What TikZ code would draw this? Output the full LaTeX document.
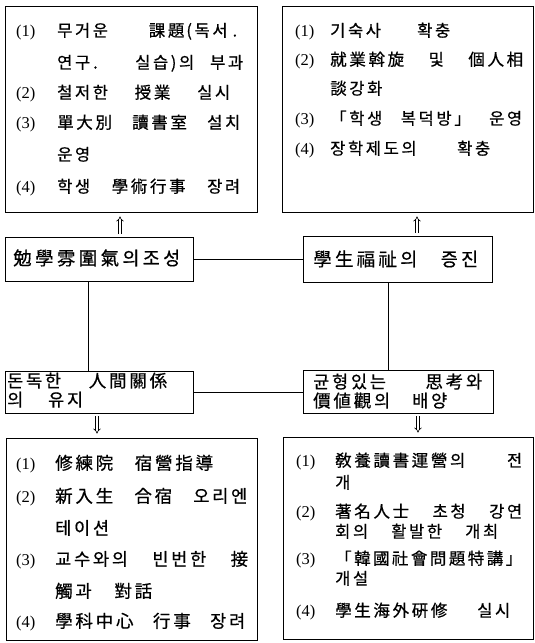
\documentclass[tikz,border=0pt]{standalone}
\usepackage{fontspec}
\newfontfamily\krD[LetterSpace=16,FakeBold=0.6]{Noto Sans CJK KR}
\newfontfamily\krm[FakeBold=0.6]{Noto Sans CJK KR}
\newfontfamily\numf{Liberation Serif}
\usetikzlibrary{arrows.meta}
\newcommand\jl[2]{\makebox[#1pt][s]{#2}}
\begin{document}
\begin{tikzpicture}[x=1pt,y=-1pt,
  frame/.style={draw, line width=0.9pt, inner sep=0pt},
  txt/.style={anchor=west, inner sep=0pt, text height=14.5pt, text depth=1.5pt,
    font=\krD\fontsize{16.5}{16.5}\selectfont},
  txtb/.style={txt, font=\krD\fontsize{17.5}{17.5}\selectfont},
  txtp/.style={txt, font=\krm\fontsize{16.5}{16.5}\selectfont},
  num/.style={anchor=west, inner sep=0pt, text height=14.5pt, text depth=1.5pt,
    font=\numf\fontsize{16.5}{16.5}\selectfont},
  mid/.style={anchor=west, inner sep=0pt, text height=14pt, text depth=2pt,
    font=\krm\fontsize{18.5}{18.5}\selectfont},
  mid2/.style={anchor=west, inner sep=0pt, text height=14pt, text depth=1.6pt,
    font=\krD\fontsize{17.5}{17.5}\selectfont},
  conn/.style={line width=0.9pt},
  dbl/.style={double, double distance=2pt, line width=0.6pt, -{Implies}, shorten <=3pt, shorten >=4pt}]
\fill[white] (0,0) rectangle (535,643);
\useasboundingbox (0,0) rectangle (535,643);
% boxes
\node[frame, minimum width=252pt, minimum height=206pt] (tl) at (131,109) {};
\node[frame, minimum width=251pt, minimum height=206pt] (tr) at (407.5,109) {};
\node[frame, minimum width=188pt, minimum height=44pt] (m1) at (99,259.5) {};
\node[frame, minimum width=189pt, minimum height=46pt] (m2) at (397.5,259) {};
\node[frame, minimum width=188pt, minimum height=42pt] (l1) at (99,392) {};
\node[frame, minimum width=190pt, minimum height=43pt] (l2) at (398,391.5) {};
\node[frame, minimum width=251pt, minimum height=202pt] (bl) at (131.5,539) {};
\node[frame, minimum width=250pt, minimum height=202pt] (br) at (408,538) {};
% top-left text
\node[num] (a1n) at (16,30) {(1)};
\node[txt] (a1) at (57,30) {\jl{180}{무거운 課題\hspace{2pt}(독서\hspace{5pt}.}};
\node[txt] (a1b) at (57,62) {\jl{186}{연구\hspace{3pt}. 실습)의 부과}};
\node[num] (a2n) at (16,92) {(2)};
\node[txt] (a2) at (57,92) {\jl{173}{철저한 授業 실시}};
\node[num] (a3n) at (16,122) {(3)};
\node[txt] (a3) at (57,122) {\jl{183}{單大別 讀書室 설치}};
\node[txt] (a3b) at (57,154) {운영};
\node[num] (a4n) at (16,186) {(4)};
\node[txt] (a4) at (57,186) {\jl{183}{학생 學術行事 장려}};
% top-right text
\node[num] (b1n) at (295,30) {(1)};
\node[txt] (b1) at (330,30) {\jl{120}{기숙사 확충}};
\node[num] (b2n) at (295,59) {(2)};
\node[txt] (b2) at (330,59) {\jl{193}{就業斡旋 및 個人相}};
\node[txt] (b2b) at (330,88) {談강화};
\node[num] (b3n) at (295,118) {(3)};
\node[txt] (b3) at (330,118) {\jl{192}{「학생 복덕방」 운영}};
\node[num] (b4n) at (295,148) {(4)};
\node[txt] (b4) at (330,148) {\jl{160}{장학제도의 확충}};
% middle texts
\node[mid] (m1t) at (13,259) {\makebox[167pt]{勉\hfill 學\hfill 雰\hfill 圍\hfill 氣\hfill 의\hfill 조\hfill 성}};
\node[mid] (m2t) at (313,260) {\makebox[165pt]{學\hfill 生\hfill 福\hfill 祉\hfill 의\hfill \hphantom{의}\hfill 증\hfill 진}};
\node[mid2] (l1t) at (7,381) {\jl{160}{돈독한 人間關係}};
\node[mid2] (l1u) at (7,400) {\jl{76}{의 유지}};
\node[mid2] (l2t) at (313,382) {\jl{169}{균형있는 思考와}};
\node[mid2] (l2u) at (313,401) {\jl{134}{價値觀의 배양}};
% bottom-left text
\node[num] (c1n) at (16,463) {(1)};
\node[txtb] (c1) at (55,463) {\jl{158}{修練院 宿營指導}};
\node[num] (c2n) at (16,496) {(2)};
\node[txtb] (c2) at (55,496) {\jl{192}{新入生 合宿 오리엔}};
\node[txtb] (c2b) at (55,528) {테이션};
\node[num] (c3n) at (16,559) {(3)};
\node[txtb] (c3) at (55,559) {\jl{193}{교수와의 빈번한 接}};
\node[txtb] (c3b) at (55,591) {\jl{97}{觸과 對話}};
\node[num] (c4n) at (16,621) {(4)};
\node[txtb] (c4) at (55,621) {\jl{190}{學科中心 行事 장려}};
% bottom-right text
\node[num] (d1n) at (296,460) {(1)};
\node[txt] (d1) at (335,460) {\jl{187}{敎養讀書運營의 전}};
\node[txt] (d1b) at (335,482) {개};
\node[num] (d2n) at (296,511) {(2)};
\node[txt] (d2) at (335,511) {\jl{187}{著名人士 초청 강연}};
\node[txt] (d2b) at (335,531) {\jl{163}{회의 활발한 개최}};
\node[num] (d3n) at (296,558) {(3)};
\node[txtp] (d3) at (335,558) {\makebox[187pt]{「\hfill 韓\hfill 國\hfill 社\hfill 會\hfill 問\hfill 題\hfill 特\hfill 講\hfill 」}};
\node[txt] (d3b) at (335,578) {개설};
\node[num] (d4n) at (296,610) {(4)};
\node[txt] (d4) at (335,610) {\jl{175}{學生海外硏修 실시}};
% connectors
\coordinate (vl) at (88,0);
\coordinate (vr) at (388,0);
\coordinate (ul) at (120,0);
\coordinate (ur) at (417,0);
\coordinate (dl) at (97,0);
\coordinate (dr) at (418,0);
\draw[conn] (m1.east) -- (m1.east -| m2.west);
\draw[conn] (l1.east) -- (l1.east -| l2.west);
\draw[conn] (m1.south -| vl) -- (l1.north -| vl);
\draw[conn] (m2.south -| vr) -- (l2.north -| vr);
\draw[dbl] (m1.north -| ul) -- (tl.south -| ul);
\draw[dbl] (m2.north -| ur) -- (tr.south -| ur);
\draw[dbl] (l1.south -| dl) -- (bl.north -| dl);
\draw[dbl] (l2.south -| dr) -- (br.north -| dr);
\end{tikzpicture}
\end{document}
